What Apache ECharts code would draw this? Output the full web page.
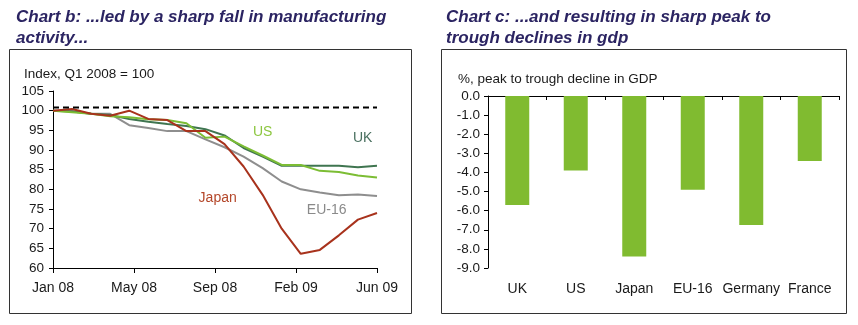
<!DOCTYPE html>
<html>
<head>
<meta charset="utf-8">
<script src="https://cdn.jsdelivr.net/npm/echarts@6/dist/echarts.min.js"></script>
<style>html,body{margin:0;padding:0;background:#fff}#c{width:858px;height:325px}</style>
</head>
<body>
<div id="c"></div>
<script>
// ---- data ----
const months = ['Jan 08','Feb 08','Mar 08','Apr 08','May 08','Jun 08','Jul 08','Aug 08','Sep 08','Oct 08','Nov 08','Dec 08','Jan 09','Feb 09','Mar 09','Apr 09','May 09','Jun 09'];
const xTickLabels = ['Jan 08','May 08','Sep 08','Feb 09','Jun 09'];
const uk    = [100, 99.8, 99.2, 98.9, 97.9, 97.2, 96.6, 96.1, 95.3, 93.7, 90.5, 88.3, 86.0, 86.0, 86.0, 86.0, 85.6, 86.0];
const us    = [100, 99.6, 99.2, 98.6, 98.3, 97.8, 97.6, 96.8, 93.1, 93.4, 90.9, 88.6, 86.2, 86.2, 84.7, 84.4, 83.5, 83.0];
const japan = [100, 100.4, 99.2, 98.7, 100.0, 97.9, 97.6, 94.8, 94.8, 91.5, 85.8, 78.6, 70.0, 63.6, 64.6, 68.3, 72.3, 74.0];
const eu16  = [100, 99.9, 99.2, 99.2, 96.3, 95.6, 94.8, 94.8, 92.7, 90.7, 88.3, 85.4, 82.0, 80.0, 79.2, 78.5, 78.7, 78.3];
const refLevel = 100.8;
// label anchor points [monthIndex, value]
const labelPos = {US: [11.0, 94.6], UK: [16.25, 93.1], Japan: [8.64, 77.8], 'EU-16': [14.36, 74.8]};

const gdpCountries = ['UK','US','Japan','EU-16','Germany','France'];
const gdpDecline   = [-5.7, -3.9, -8.4, -4.9, -6.75, -3.4];

// ---- chart ----
const FONT = '"Liberation Sans", Arial, sans-serif';
const TXT = '#1a1a1a';
const pairs = arr => arr.map((v, i) => [i, v]);

function lineSeries(name, data, color, labelColor) {
  return {
    type: 'line', name, data: pairs(data), xAxisIndex: 0, yAxisIndex: 0,
    symbol: 'none', lineStyle: {color, width: 2}, z: 3,
    markPoint: {
      symbol: 'circle', symbolSize: 0, silent: true,
      label: {show: true, formatter: name, color: labelColor, fontSize: 14, fontFamily: FONT, position: 'inside'},
      data: [{coord: labelPos[name]}]
    }
  };
}

const chart = echarts.init(document.getElementById('c'), null, {renderer: 'canvas'});
chart.setOption({
  animation: false,
  backgroundColor: '#fff',
  title: [
    {text: 'Chart b: ...led by a sharp fall in manufacturing\nactivity...', left: 11, top: 2,
     textStyle: {fontFamily: FONT, fontSize: 17, fontWeight: 'bold', fontStyle: 'italic', color: '#2b2462', lineHeight: 21}},
    {text: 'Chart c: ...and resulting in sharp peak to\ntrough declines in gdp', left: 441, top: 2,
     textStyle: {fontFamily: FONT, fontSize: 17, fontWeight: 'bold', fontStyle: 'italic', color: '#2b2462', lineHeight: 21}},
    {text: 'Index, Q1 2008 = 100', left: 19, top: 62,
     textStyle: {fontFamily: FONT, fontSize: 13.5, fontWeight: 'normal', color: TXT}},
    {text: '%, peak to trough decline in GDP', left: 453, top: 67,
     textStyle: {fontFamily: FONT, fontSize: 13.5, fontWeight: 'normal', color: TXT}}
  ],
  graphic: [
    {type: 'rect', shape: {x: 9.5, y: 49.5, width: 402, height: 264}, style: {fill: 'none', stroke: '#333', lineWidth: 1}, silent: true},
    {type: 'rect', shape: {x: 441.5, y: 49.5, width: 405, height: 264}, style: {fill: 'none', stroke: '#333', lineWidth: 1}, silent: true}
  ],
  grid: [
    {left: 53, right: 481, top: 91, bottom: 57},
    {left: 488, right: 19, top: 96, bottom: 57}
  ],
  xAxis: [
    {type: 'value', gridIndex: 0, min: 0, max: 17, interval: 4.25,
     axisLine: {show: true, onZero: false, lineStyle: {color: '#000', width: 1}},
     axisTick: {show: true, length: 5, lineStyle: {color: '#000'}},
     splitLine: {show: false},
     axisLabel: {margin: 13, color: TXT, fontSize: 14, fontFamily: FONT,
       formatter: v => xTickLabels[Math.round(v / 4.25)]}},
    {type: 'category', gridIndex: 1, data: gdpCountries, position: 'top',
     axisLine: {show: true, onZero: false, lineStyle: {color: '#000', width: 1}},
     axisTick: {show: true, inside: true, length: 4, interval: 0, lineStyle: {color: '#000'}},
     axisLabel: {show: false}},
    {type: 'category', gridIndex: 1, data: gdpCountries, position: 'bottom',
     axisLine: {show: false}, axisTick: {show: false},
     axisLabel: {margin: 14, interval: 0, color: TXT, fontSize: 14, fontFamily: FONT}}
  ],
  yAxis: [
    {type: 'value', gridIndex: 0, min: 60, max: 105, interval: 5,
     axisLine: {show: true, lineStyle: {color: '#000', width: 1}},
     axisTick: {show: true, length: 4, lineStyle: {color: '#000'}},
     splitLine: {show: false},
     axisLabel: {margin: 9, color: TXT, fontSize: 13.5, fontFamily: FONT}},
    {type: 'value', gridIndex: 1, min: -9, max: 0, interval: 1,
     axisLine: {show: true, lineStyle: {color: '#000', width: 1}},
     axisTick: {show: true, length: 4, lineStyle: {color: '#000'}},
     splitLine: {show: false},
     axisLabel: {margin: 8, color: TXT, fontSize: 13.5, fontFamily: FONT, formatter: v => v.toFixed(1)}}
  ],
  series: [
    {type: 'line', name: 'ref', data: [[0, refLevel], [17, refLevel]], xAxisIndex: 0, yAxisIndex: 0,
     symbol: 'none', lineStyle: {color: '#000', width: 2, type: [6, 4]}, z: 5},
    lineSeries('EU-16', eu16, '#8e8e8e', '#8a8a8a'),
    lineSeries('UK', uk, '#3f7550', '#4a7060'),
    lineSeries('US', us, '#7cbd34', '#8cc63f'),
    lineSeries('Japan', japan, '#a8321c', '#b4472a'),
    {type: 'bar', name: 'GDP', data: gdpDecline, xAxisIndex: 2, yAxisIndex: 1,
     barWidth: 24, itemStyle: {color: '#80bb30'}}
  ]
});
</script>
</body>
</html>
